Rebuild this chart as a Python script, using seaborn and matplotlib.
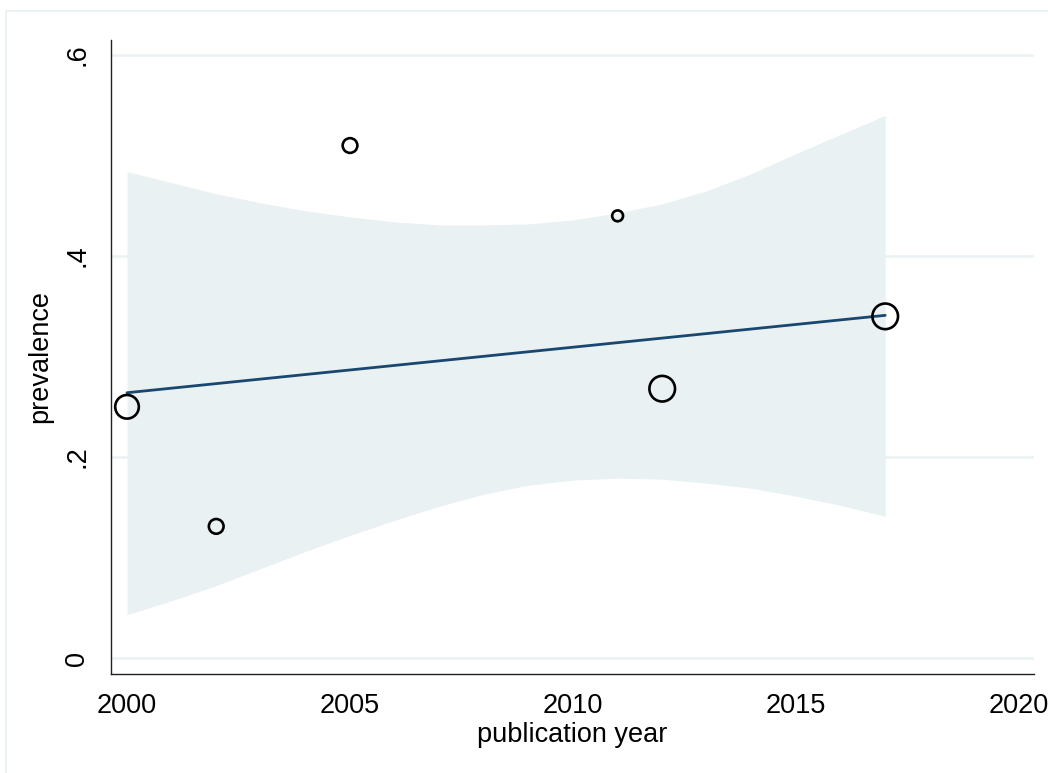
import numpy as np
import pandas as pd
import matplotlib
matplotlib.use("Agg")
import matplotlib.pyplot as plt
import seaborn as sns
from matplotlib.patches import Rectangle

# ---- data ----
pub_year = [2000, 2002, 2005, 2011, 2012, 2017]
prevalence = [0.250, 0.131, 0.510, 0.440, 0.268, 0.340]
study_weight = [8.5, 3.3, 3.3, 1.8, 10.0, 10.0]

fit_year = [2000, 2017]
fit_value = [0.264, 0.341]

band_year = [2000, 2001, 2002, 2003, 2004, 2005, 2006, 2007, 2008,
             2009, 2010, 2011, 2012, 2013, 2014, 2015, 2016, 2017]
band_upper = [0.484, 0.473, 0.462, 0.453, 0.445, 0.439, 0.434, 0.431, 0.431,
              0.432, 0.436, 0.443, 0.452, 0.465, 0.482, 0.502, 0.521, 0.540]
band_lower = [0.043, 0.057, 0.072, 0.089, 0.106, 0.122, 0.137, 0.151, 0.163,
              0.172, 0.177, 0.179, 0.178, 0.174, 0.169, 0.161, 0.152, 0.141]

x_ticks = [2000, 2005, 2010, 2015, 2020]
y_ticks = [0, 0.2, 0.4, 0.6]
y_tick_labels = ["0", ".2", ".4", ".6"]

x_title = "publication year"
y_title = "prevalence"

# ---- styling ----
sns.set_theme(style="white")
plt.rcParams["font.family"] = ["Liberation Sans", "DejaVu Sans"]

BAND = "#E9F1F3"
GRID = "#EAF2F3"
LINE = "#1A476F"
AXC = "#222222"
FS = 19.5

fig = plt.figure(figsize=(10.48, 7.73), dpi=100)
fig.patch.set_facecolor("white")
ax = fig.add_axes([111 / 1048, 1 - 674 / 773, (1034 - 111) / 1048, (674 - 40) / 773])

# outer graph-region frame
fig.patches.append(Rectangle((6 / 1048, -0.05), 1.2, (773 - 11) / 773 + 0.05,
                             transform=fig.transFigure, fill=False,
                             edgecolor=GRID, linewidth=1.4, zorder=0))

points = pd.DataFrame({"year": pub_year, "prev": prevalence, "w": study_weight})
fit = pd.DataFrame({"year": fit_year, "pred": fit_value})
band = pd.DataFrame({"year": band_year, "lo": band_lower, "hi": band_upper})

for yt in y_ticks:
    ax.axhline(yt, color=GRID, linewidth=1.8, zorder=0)

ax.fill_between(band["year"], band["lo"], band["hi"], color=BAND,
                linewidth=0, zorder=1)

sns.lineplot(data=fit, x="year", y="pred", ax=ax, color=LINE,
             linewidth=2.0, zorder=2)

sns.scatterplot(data=points, x="year", y="prev", size="w",
                sizes=(0, 340), size_norm=(0, 10), ax=ax, legend=False,
                marker="o", facecolor="none", edgecolor="black",
                linewidth=1.9, zorder=3)

ax.set_xlim(1999.641, 2020.336)
ax.set_ylim(-0.0159, 0.615)
ax.set_xticks(x_ticks)
ax.set_xticklabels([str(t) for t in x_ticks])
ax.set_yticks(y_ticks)
ax.set_yticklabels(y_tick_labels, rotation=90, va="center")

ax.set_xlabel(x_title, fontsize=FS, labelpad=2, color="black")
ax.set_ylabel(y_title, fontsize=FS, labelpad=8, color="black")

ax.tick_params(axis="both", direction="out", length=8, width=1.0,
               color=AXC, labelsize=FS, labelcolor="black")
ax.tick_params(axis="x", pad=6)
ax.tick_params(axis="y", pad=7)

for side in ("top", "right"):
    ax.spines[side].set_visible(False)
for side in ("left", "bottom"):
    ax.spines[side].set_color(AXC)
    ax.spines[side].set_linewidth(1.0)

ax.set_facecolor("white")
ax.grid(False)

fig.savefig("out.png", dpi=100, facecolor="white")
